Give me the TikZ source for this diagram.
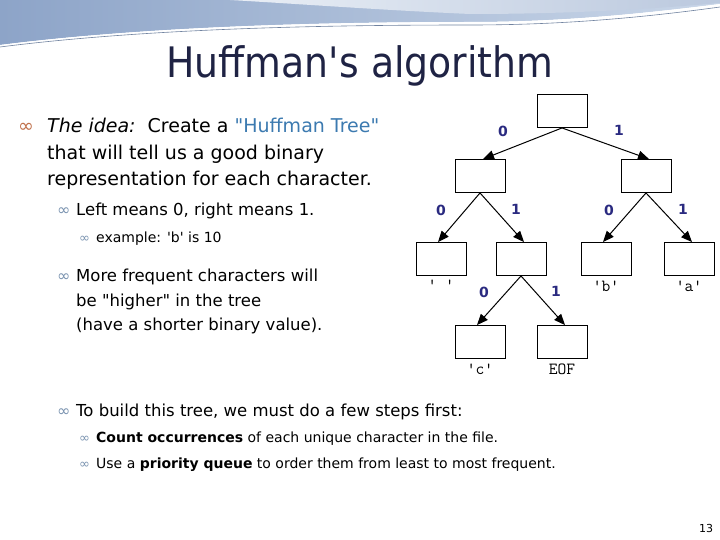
\documentclass[tikz,border=0pt]{standalone}
\usepackage{fontspec}
\setmainfont{DejaVu Sans}[Ligatures=TeXOff]
\usetikzlibrary{arrows.meta}
\definecolor{titlec}{HTML}{1F2344}
\definecolor{hblue}{HTML}{3C7AB0}
\definecolor{bul1}{HTML}{C0704A}
\definecolor{bul2}{HTML}{7A93B0}
\definecolor{lblc}{HTML}{2A2A80}
\definecolor{bandA}{HTML}{8DA4C8}
\definecolor{bandB}{HTML}{C9D6E8}
\newcommand{\dq}{\symbol{34}}
\newcommand{\sq}{\symbol{39}}
\begin{document}
\begin{tikzpicture}[x=1pt,y=-1pt,
  box/.style={draw,line width=0.9pt,minimum width=50pt,minimum height=33pt,inner sep=0pt},
  edge/.style={-{Triangle[length=11pt,width=9pt]},line width=1pt},
  bit/.style={font=\fontsize{14}{14}\selectfont\bfseries,text=lblc},
  leaf/.style={font=\fontsize{17}{17}\ttfamily},
  t1/.style={anchor=base west,inner sep=0pt,font=\fontsize{19}{19}\selectfont},
  t2/.style={anchor=base west,inner sep=0pt,font=\fontsize{16.5}{16}\selectfont},
  t3/.style={anchor=base west,inner sep=0pt,font=\fontsize{14}{14}\selectfont}]
\useasboundingbox (0,0) rectangle (720,540);
\fill[white] (0,0) rectangle (720,540);
% banner
\shade[left color=bandA,right color=bandB] (0,0) -- (720,0) -- (720,4) .. controls (640,14) and (560,22) .. (470,22) .. controls (330,22) and (150,26) .. (0,45) -- cycle;
\shade[left color=bandB!40,right color=bandA!60] (230,0) -- (720,0) -- (720,3) .. controls (640,10) and (560,14) .. (470,14) .. controls (380,10) and (300,4) .. (230,0) -- cycle;
\fill[white] (0,45) .. controls (150,26) and (330,22) .. (470,22) .. controls (560,22) and (640,14) .. (720,4) -- (720,10) .. controls (640,22) and (560,28) .. (470,28) .. controls (330,28) and (150,32) .. (0,50) -- cycle;
\draw[bandA!80!black,line width=0.6pt] (0,47) .. controls (150,28) and (330,25) .. (470,25) .. controls (560,25) and (640,18) .. (720,7);
\node[text=titlec,font=\fontsize{42}{42}\selectfont] (title) at (360,66) {\addfontfeature{FakeStretch=0.9}Huffman\sq s algorithm};
% text
\node[t1] (l1b) at (18,133) {\textcolor{bul1}{\fontsize{19}{19}\selectfont∞}};
\node[t1] (l1) at (47,133) {\textit{The idea:}\ \ Create a \textcolor{hblue}{\dq Huffman Tree\dq}};
\node[t1] (l2) at (47,160) {that will tell us a good binary};
\node[t1] (l3) at (47,186) {representation for each character.};
\node[t2] (l4b) at (57,215) {\textcolor{bul2}{\fontsize{16}{16}\selectfont∞}};
\node[t2] (l4) at (76,215) {Left means 0, right means 1.};
\node[t3] (l5b) at (79,243) {\textcolor{bul2}{\fontsize{13}{13}\selectfont∞}};
\node[t3] (l5) at (96,243) {example: \sq b\sq\ is 10};
\node[t2] (l6b) at (57,281) {\textcolor{bul2}{\fontsize{16}{16}\selectfont∞}};
\node[t2] (l6) at (76,281) {More frequent characters will};
\node[t2] (l7) at (76,306) {be \dq higher\dq\ in the tree};
\node[t2] (l8) at (76,330) {(have a shorter binary value).};
\node[t2] (l9b) at (57,416) {\textcolor{bul2}{\fontsize{16}{16}\selectfont∞}};
\node[t2] (l9) at (76,416) {To build this tree, we must do a few steps first:};
\node[t3] (l10b) at (79,442) {\textcolor{bul2}{\fontsize{13}{13}\selectfont∞}};
\node[t3] (l10) at (96,442) {\textbf{Count occurrences} of each unique character in the file.};
\node[t3] (l11b) at (79,468) {\textcolor{bul2}{\fontsize{13}{13}\selectfont∞}};
\node[t3] (l11) at (96,468) {Use a \textbf{priority queue} to order them from least to most frequent.};
\node[font=\fontsize{11}{11}\selectfont] (pg) at (706,528) {13};
% tree
\node[box] (r) at (562,111) {};
\node[box] (a) at (480,176) {};
\node[box] (b) at (646,176) {};
\node[box] (c) at (441,259) {};
\node[box] (d) at (521,259) {};
\node[box] (e) at (606,259) {};
\node[box] (f) at (689,259) {};
\node[box] (g) at (480,342) {};
\node[box] (h) at (562,342) {};
\draw[edge] (r.south) -- ([xshift=3pt]a.north);
\draw[edge] (r.south) -- ([xshift=3pt]b.north);
\draw[edge] (a.south) -- ([xshift=-3pt]c.north);
\draw[edge] (a.south) -- ([xshift=3pt]d.north);
\draw[edge] (b.south) -- ([xshift=-3pt]e.north);
\draw[edge] (b.south) -- ([xshift=3pt]f.north);
\draw[edge] (d.south) -- ([xshift=-3pt]g.north);
\draw[edge] (d.south) -- ([xshift=3pt]h.north);
\node[bit] (z1) at (503,131) {0};
\node[bit] (o1) at (619,130) {1};
\node[bit] (z2) at (441,210) {0};
\node[bit] (o2) at (516,209) {1};
\node[bit] (z3) at (609,210) {0};
\node[bit] (o3) at (683,209) {1};
\node[bit] (z4) at (484,292) {0};
\node[bit] (o4) at (556,291) {1};
\node[leaf] (lc) at (441,285) {\sq\ \sq};
\node[leaf] (lb) at (606,286) {\sq b\sq};
\node[leaf] (la) at (689,286) {\sq a\sq};
\node[leaf] (lcc) at (480,369) {\sq c\sq};
\node[leaf] (leof) at (562,369) {EOF};
\end{tikzpicture}
\end{document}
